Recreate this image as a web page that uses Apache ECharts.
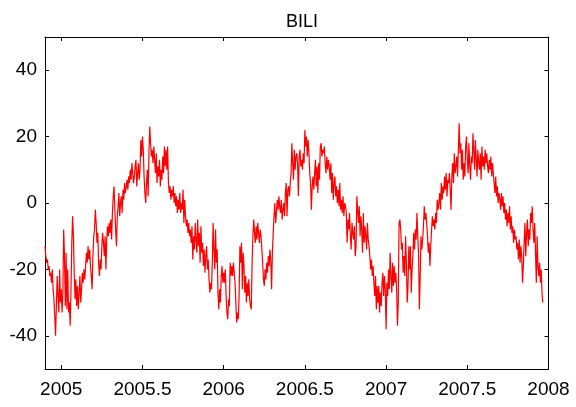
<!DOCTYPE html>
<html>
<head>
<meta charset="utf-8">
<script src="https://cdn.jsdelivr.net/npm/echarts@6/dist/echarts.min.js"></script>
<style>
  html, body { margin: 0; padding: 0; background: #fff; }
  #chart { width: 576px; height: 407px; }
</style>
</head>
<body>
<div id="chart"></div>
<script>
// Station series: daily-ish values sampled every 0.005 year from startYear
const titleText = 'BILI';
const startYear = 2004.9;
const stepYears = 0.005;
const values = [
  -13,-16,-18,-17,-20,-19,-22,-21,-24,-20,
  -26,-29,-34,-40,-31,-22,-28,-33,-20,-30,
  -26,-33,-27,-8,-16,-31,-15,-32,-20,-33,
  -30,-37,-26,-12,-4,-10,-21,-29,-23,-31,
  -25,-32,-27,-22,-30,-26,-21,-24,-20,-23,
  -19,-15,-18,-13,-17,-14,-19,-22,-26,-16,
  -10,-8,-2,-6,-12,-9,-18,-22,-17,-20,
  -13,-9,-12,-16,-10,-20,-11,-7,-10,-6,
  -9,-5,-11,-3,2,5,-2,-8,-13,-4,
  -1,3,-4,0,2,-3,4,1,6,3,
  5,7,4,8,6,10,7,12,9,6,
  8,11,13,5,9,12,7,10,19,14,
  20,16,8,3,0,6,10,2,15,23,
  18,14,16,12,17,13,9,15,6,11,
  8,13,5,10,7,14,9,17,11,16,
  10,17,6,3,5,1,4,2,5,0,
  3,-1,2,-3,1,-2,3,-3,0,-2,
  4,-6,1,-4,-7,-5,-9,-6,-10,-8,
  -12,-7,-17,-10,-14,-6,-11,-15,-5,-13,
  -9,-18,-7,-15,-12,-19,-14,-21,-16,-13,
  -20,-17,-23,-27,-24,-26,-18,-6,-14,-20,
  -8,-18,-14,-27,-32,-26,-30,-22,-19,-24,
  -21,-24,-20,-28,-33,-35,-29,-31,-18,-22,
  -19,-22,-18,-21,-24,-30,-36,-33,-35,-28,
  -13,-18,-12,-26,-15,-19,-27,-22,-30,-24,
  -28,-23,-29,-31,-32,-18,-10,-5,-9,-12,
  -7,-11,-6,-9,-12,-8,-10,-14,-18,-23,
  -25,-20,-23,-18,-21,-16,-19,-14,-17,-26,
  -15,-9,-4,0,-6,-3,1,-2,2,-1,
  -3,1,-5,-2,0,-4,3,6,-4,4,
  5,2,6,9,18,12,7,16,10,14,
  15,12,2,14,16,11,13,10,15,12,
  22,17,20,14,19,15,9,6,-2,5,
  8,4,9,13,5,11,3,12,7,17,
  18,14,16,15,17,12,9,14,10,13,
  11,7,12,3,9,1,6,8,2,5,
  0,4,-1,6,-2,1,-3,2,-4,0,
  -1,-3,-12,-5,-8,-3,-10,-14,-6,-9,
  -11,-7,-16,-13,2,-2,-6,-1,-10,-4,
  -8,-15,-3,-12,-7,-10,-14,-6,-11,-13,
  -16,-20,-17,-22,-19,-24,-28,-22,-32,-25,
  -30,-25,-33,-27,-31,-24,-21,-28,-22,-26,
  -38,-24,-28,-20,-26,-15,-22,-27,-18,-25,
  -19,-24,-21,-26,-37,-30,-6,-5,-8,-14,
  -12,-21,-16,-22,-10,-18,-30,-25,-13,-20,
  -13,-27,-20,-16,-9,-14,-8,-11,-3,-10,
  -15,-32,-22,-10,-14,-11,-7,-1,-5,-3,
  -6,-10,-15,-12,-19,-13,-8,-4,-7,-5,
  -8,-3,-6,1,-2,0,3,-2,6,1,
  5,3,8,4,9,2,7,6,9,4,
  -2,8,12,6,15,9,11,14,8,16,
  24,15,18,10,16,7,12,8,17,20,
  13,9,18,11,7,14,12,21,16,10,
  19,13,8,16,12,10,15,7,17,11,
  14,10,16,12,15,11,9,13,10,14,
  8,12,9,6,3,8,2,5,0,3,
  1,-2,3,-1,2,-3,0,-5,-2,-7,
  -3,-6,-1,-8,-4,-9,-7,-12,-8,-11,
  -10,-14,-12,-17,-11,-18,-13,-16,-24,-19,
  -12,-6,-16,-9,-5,-13,-8,-11,-3,-6,
  -1,-8,-12,-6,-15,-24,-10,-19,-22,-18,
  -24,-20,-27,-30
];
const xTicks = [2005, 2005.5, 2006, 2006.5, 2007, 2007.5, 2008];
const yTicks = [-40, -20, 0, 20, 40];
const xRange = [2004.9, 2008];
const yRange = [-50, 50];

const seriesData = values.map((v, i) => [startYear + i * stepYears, v]);

const font = 'Liberation Sans, Arial, Helvetica, sans-serif';
const frame = { show: true, onZero: false, lineStyle: { color: '#000', width: 1 } };
const tick = (vals) => ({ show: true, inside: true, length: 4, customValues: vals, lineStyle: { color: '#000', width: 1 } });

function xAxisDef(position, withLabels) {
  return {
    type: 'value', position, min: xRange[0], max: xRange[1],
    axisLine: frame, axisTick: tick(xTicks), splitLine: { show: false },
    axisLabel: withLabels
      ? { show: true, customValues: xTicks, formatter: v => String(v), fontSize: 19, color: '#000', fontFamily: font, margin: 11 }
      : { show: false }
  };
}
function yAxisDef(position, withLabels) {
  return {
    type: 'value', position, min: yRange[0], max: yRange[1],
    axisLine: frame, axisTick: tick(yTicks), splitLine: { show: false },
    axisLabel: withLabels
      ? { show: true, customValues: yTicks, formatter: v => String(v), fontSize: 19, color: '#000', fontFamily: font, margin: 8, padding: [5, 0, 0, 0] }
      : { show: false }
  };
}

const chart = echarts.init(document.getElementById('chart'), null, { renderer: 'canvas' });
chart.setOption({
  animation: false,
  backgroundColor: '#fff',
  title: {
    text: titleText, left: 297, top: 8, textAlign: 'center',
    textStyle: { fontSize: 18, fontWeight: 'normal', color: '#000', fontFamily: font }
  },
  grid: { left: 45, right: 27.5, top: 37, bottom: 38 },
  xAxis: [xAxisDef('bottom', true), xAxisDef('top', false)],
  yAxis: [yAxisDef('left', true), yAxisDef('right', false)],
  series: [{
    type: 'line', xAxisIndex: 0, yAxisIndex: 0,
    data: seriesData, symbol: 'none', showSymbol: false,
    lineStyle: { color: '#ff0000', width: 1.2 }
  }]
});
</script>
</body>
</html>
